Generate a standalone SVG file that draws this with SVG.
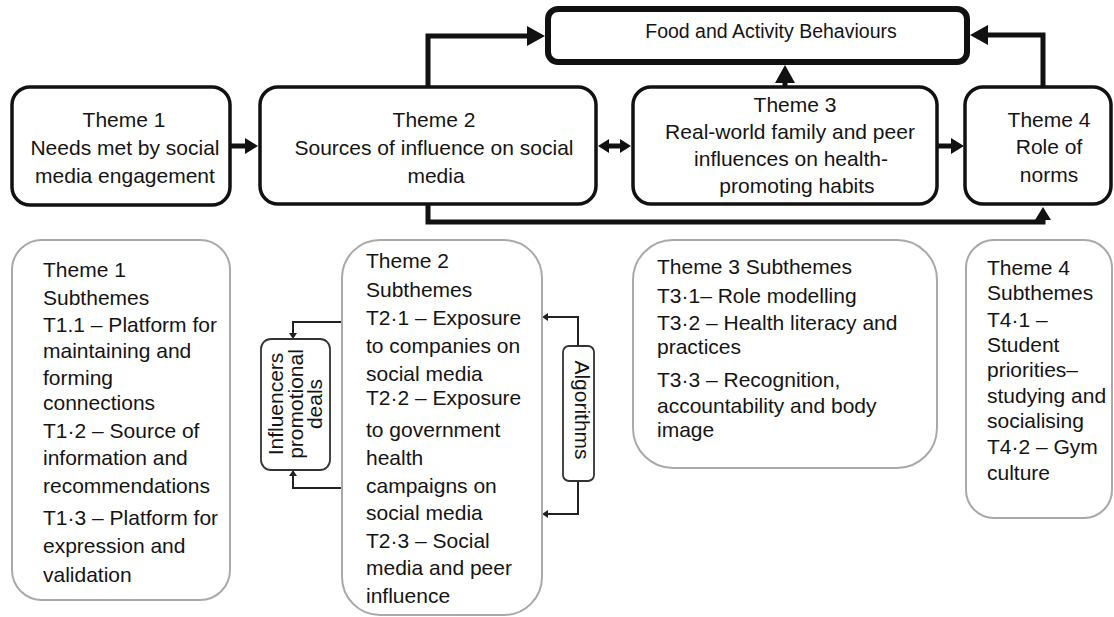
<svg xmlns="http://www.w3.org/2000/svg" width="1114" height="617" viewBox="0 0 1114 617">
<style>
text{font-family:"Liberation Sans",Arial,Helvetica,sans-serif;font-size:21px;fill:#141414}
.c{text-anchor:middle}
.tb{fill:#fff;stroke:#111;stroke-width:3.5}
.fab{fill:#fff;stroke:#111;stroke-width:6}
.sb{fill:#fff;stroke:#a9a9a9;stroke-width:2}
.sm{fill:#fff;stroke:#333;stroke-width:1.8}
.cn{fill:none;stroke:#111;stroke-width:5}
.cs{fill:none;stroke:#222;stroke-width:2}
</style>
<defs>
<marker id="big" markerUnits="userSpaceOnUse" markerWidth="18" markerHeight="20" refX="0" refY="10" orient="auto"><path d="M0,0 L18,10 L0,20 Z" fill="#111"/></marker>
<marker id="med" markerUnits="userSpaceOnUse" markerWidth="13" markerHeight="16" refX="0" refY="8" orient="auto"><path d="M0,0 L13,8 L0,16 Z" fill="#111"/></marker>
<marker id="dbl" markerUnits="userSpaceOnUse" markerWidth="11" markerHeight="14" refX="0" refY="7" orient="auto-start-reverse"><path d="M0,0 L11,7 L0,14 Z" fill="#111"/></marker>
<marker id="sml" markerUnits="userSpaceOnUse" markerWidth="6" markerHeight="8" refX="0" refY="4" orient="auto"><path d="M0,0 L6,4 L0,8 Z" fill="#222"/></marker>
</defs>

<g id="connectors">
<path class="cn" d="M230,146 H245" marker-end="url(#med)"/>
<path class="cn" d="M428,87 V36 H527" marker-end="url(#big)"/>
<path class="cn" d="M609,146 H620" marker-start="url(#dbl)" marker-end="url(#dbl)"/>
<path class="cn" d="M785,87 V83" marker-end="url(#big)"/>
<path class="cn" d="M937,146 H951" marker-end="url(#med)"/>
<path class="cn" d="M1043,87 V35 H988" marker-end="url(#big)"/>
<path class="cn" d="M428,204 V222 H1043 V220" marker-end="url(#med)"/>
<path class="cs" d="M342,322 H293 V333" marker-end="url(#sml)"/>
<path class="cs" d="M342,488 H293 V476" marker-end="url(#sml)"/>
<path class="cs" d="M578,346 V317 H548" marker-end="url(#sml)"/>
<path class="cs" d="M578,481 V514 H548" marker-end="url(#sml)"/>
</g>

<g id="fab">
<rect class="fab" x="548" y="9" width="419" height="53" rx="10"/>
<text class="c" x="771" y="38" style="font-size:19.5px">Food and Activity Behaviours</text>
</g>

<g id="theme1">
<rect class="tb" x="12" y="87" width="218" height="118" rx="18"/>
<text class="c"><tspan x="124" y="127">Theme 1</tspan><tspan x="125" y="155">Needs met by social</tspan><tspan x="125" y="183">media engagement</tspan></text>
</g>

<g id="theme2">
<rect class="tb" x="260" y="87" width="336" height="117" rx="18"/>
<text class="c"><tspan x="434" y="127">Theme 2</tspan><tspan x="434" y="155">Sources of influence on social</tspan><tspan x="436" y="183">media</tspan></text>
</g>

<g id="theme3">
<rect class="tb" x="633" y="87" width="304" height="117" rx="18"/>
<text class="c"><tspan x="795" y="112">Theme 3</tspan><tspan x="790" y="139">Real-world family and peer</tspan><tspan x="791" y="166">influences on health-</tspan><tspan x="797" y="193">promoting habits</tspan></text>
</g>

<g id="theme4">
<rect class="tb" x="965" y="87" width="146" height="117" rx="18"/>
<text class="c"><tspan x="1049" y="127">Theme 4</tspan><tspan x="1049" y="154">Role of</tspan><tspan x="1049" y="182">norms</tspan></text>
</g>

<g id="sub1">
<rect class="sb" x="12" y="240" width="218" height="360" rx="30"/>
<text><tspan x="43" y="277">Theme 1</tspan><tspan x="43" y="305">Subthemes</tspan><tspan x="43" y="332">T1.1 – Platform for</tspan><tspan x="43" y="358">maintaining and</tspan><tspan x="43" y="385">forming</tspan><tspan x="43" y="410">connections</tspan><tspan x="43" y="438">T1·2 – Source of</tspan><tspan x="43" y="465">information and</tspan><tspan x="43" y="493">recommendations</tspan><tspan x="43" y="525">T1·3 – Platform for</tspan><tspan x="43" y="553">expression and</tspan><tspan x="43" y="582">validation</tspan></text>
</g>

<g id="sub2">
<rect class="sb" x="342" y="240" width="200" height="375" rx="38"/>
<text><tspan x="366" y="268">Theme 2</tspan><tspan x="366" y="297">Subthemes</tspan><tspan x="366" y="325">T2·1 – Exposure</tspan><tspan x="366" y="353">to companies on</tspan><tspan x="366" y="381">social media</tspan><tspan x="366" y="405">T2·2 – Exposure</tspan><tspan x="366" y="437">to government</tspan><tspan x="366" y="465">health</tspan><tspan x="366" y="493">campaigns on</tspan><tspan x="366" y="520">social media</tspan><tspan x="366" y="548">T2·3 – Social</tspan><tspan x="366" y="575">media and peer</tspan><tspan x="366" y="603">influence</tspan></text>
</g>

<g id="influencers">
<rect class="sm" x="261" y="339" width="69" height="131" rx="10"/>
<text class="c" transform="translate(0,404) rotate(-90)"><tspan x="0" y="283">Influencers</tspan><tspan x="0" y="303">promotional</tspan><tspan x="0" y="322">deals</tspan></text>
</g>

<g id="algorithms">
<rect class="sm" x="563" y="346" width="31" height="135" rx="6"/>
<text class="c" transform="translate(0,410) rotate(90)"><tspan x="0" y="-575">Algorithms</tspan></text>
</g>

<g id="sub3">
<rect class="sb" x="633" y="240" width="304" height="228" rx="40"/>
<text><tspan x="657" y="274">Theme 3 Subthemes</tspan><tspan x="657" y="303">T3·1– Role modelling</tspan><tspan x="657" y="330">T3·2 – Health literacy and</tspan><tspan x="657" y="354">practices</tspan><tspan x="657" y="387">T3·3 – Recognition,</tspan><tspan x="657" y="413">accountability and body</tspan><tspan x="657" y="437">image</tspan></text>
</g>

<g id="sub4">
<rect class="sb" x="966" y="240" width="146" height="278" rx="28"/>
<text><tspan x="987" y="275">Theme 4</tspan><tspan x="987" y="300">Subthemes</tspan><tspan x="987" y="327">T4·1 –</tspan><tspan x="987" y="352">Student</tspan><tspan x="987" y="377">priorities–</tspan><tspan x="987" y="403">studying and</tspan><tspan x="987" y="428">socialising</tspan><tspan x="987" y="454">T4·2 – Gym</tspan><tspan x="987" y="480">culture</tspan></text>
</g>
</svg>
